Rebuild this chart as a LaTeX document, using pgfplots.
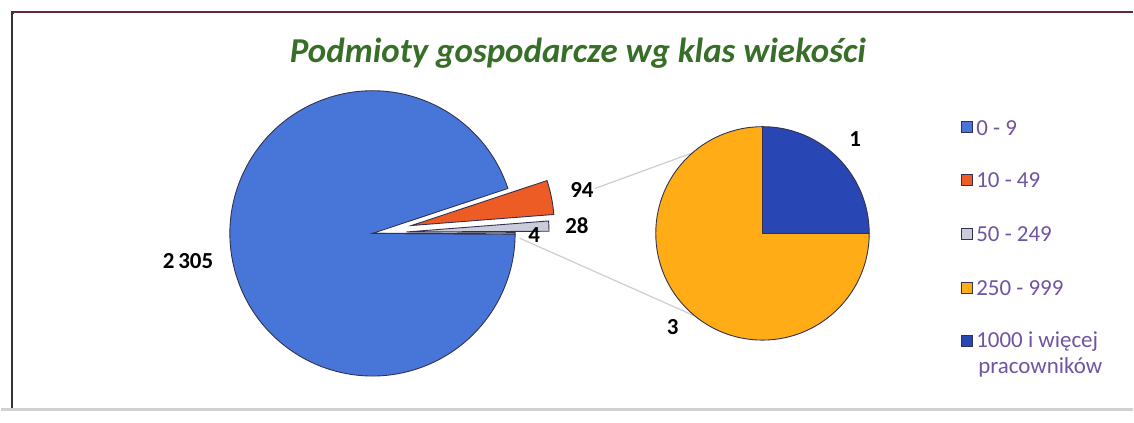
\documentclass[border=0pt]{standalone}
\usepackage{fontspec}
\setmainfont{Carlito}
\usepackage{pgfplots}
\usepackage{pgfplotstable}
\pgfplotsset{compat=1.18}
\usetikzlibrary{calc}

\definecolor{pieblue}{RGB}{72,118,216}
\definecolor{pieorange}{RGB}{238,92,38}
\definecolor{piegray}{RGB}{202,204,218}
\definecolor{pieyellow}{RGB}{255,172,22}
\definecolor{piedark}{RGB}{40,70,180}
\definecolor{pieline}{RGB}{50,50,80}
\definecolor{legtext}{RGB}{112,84,160}
\definecolor{titlegreen}{RGB}{55,110,40}
\definecolor{framered}{RGB}{100,40,60}
\definecolor{connector}{RGB}{205,205,210}

\pgfplotstableread{
label value
0-9 2305
10-49 94
50-249 28
250-999 3
1000+ 1
}\datatable

\pgfplotstablegetelem{0}{value}\of\datatable \let\vA\pgfplotsretval
\pgfplotstablegetelem{1}{value}\of\datatable \let\vB\pgfplotsretval
\pgfplotstablegetelem{2}{value}\of\datatable \let\vC\pgfplotsretval
\pgfplotstablegetelem{3}{value}\of\datatable \let\vD\pgfplotsretval
\pgfplotstablegetelem{4}{value}\of\datatable \let\vE\pgfplotsretval

\pgfmathsetmacro\vOther{\vD+\vE}
\pgfmathsetmacro\vTotal{\vA+\vB+\vC+\vOther}
\pgfmathsetmacro\aO{360*(\vOther/\vTotal)}
\pgfmathsetmacro\oA{-\aO/2}
\pgfmathsetmacro\oB{\aO/2}
\pgfmathsetmacro\gB{\oB+360*(\vC/\vTotal)}
\pgfmathsetmacro\rB{\gB+360*(\vB/\vTotal)}
\pgfmathsetmacro\bB{360+\oA}
% second pie
\pgfmathsetmacro\sDark{360*(\vE/\vOther)}
\pgfmathsetmacro\sEnd{360}

% slice: cx, cy, r, a1, a2, explode, fill  (units: px, 1px = 0.5pt)
\newcommand{\slice}[7]{%
  \fill[#7, draw=pieline, line width=0.45pt]
    ($(axis cs:#1,#2)+({(#4+#5)/2}:{#6*0.5pt})$) -- ++({#4}:{#3*0.5pt})
    arc[start angle={#4}, end angle={#5}, radius={#3*0.5pt}] -- cycle;}
\newcommand{\legbox}[2]{%
  \fill[#2, draw=pieline, line width=0.4pt] (axis cs:962,#1-5) rectangle (axis cs:973,#1+6);}

\begin{document}
\begin{tikzpicture}
\begin{axis}[
  x=0.5pt, y=0.5pt,
  xmin=0, xmax=1134, ymin=0, ymax=424,
  hide axis, clip=false,
]
% background & frame
\fill[white] (axis cs:0,0) rectangle (axis cs:1134,424);
\draw[framered, line width=1.2pt] (axis cs:11,410) -- (axis cs:11,412) -- (axis cs:1134,412);
\draw[black!80, line width=1pt] (axis cs:11,412) -- (axis cs:11,14);
\draw[black!18, line width=1.5pt] (axis cs:0,13) -- (axis cs:1134,13);

% title
\node[font=\fontsize{17.5}{20}\selectfont\bfseries\itshape, text=titlegreen]
  at (axis cs:578,371) {Podmioty gospodarcze wg klas wiekości};

% connector lines
\draw[connector, line width=0.6pt] (axis cs:595,235) -- (axis cs:710,277);
\draw[connector, line width=0.6pt] (axis cs:520,185) -- (axis cs:700,105);

% main pie
\slice{372}{190}{143}{\rB}{\bB}{0}{pieblue}
\slice{372}{190}{143}{\gB}{\rB}{40}{pieorange}
\slice{372}{190}{143}{\oB}{\gB}{34}{piegray}
\slice{372}{190}{143}{\oA}{\oB}{0}{white}

% second pie
\slice{763}{190}{107}{\sDark}{\sEnd}{0}{pieyellow}
\slice{763}{190}{107}{0}{\sDark}{0}{piedark}

% data labels
\node[font=\fontsize{11.5}{13}\selectfont\bfseries] at (axis cs:187,162) {2\,305};
\node[font=\fontsize{11.5}{13}\selectfont\bfseries] at (axis cs:582,234) {94};
\node[font=\fontsize{11.5}{13}\selectfont\bfseries] at (axis cs:577,198) {28};
\node[font=\fontsize{11.5}{13}\selectfont\bfseries] at (axis cs:534,188) {4};
\node[font=\fontsize{11.5}{13}\selectfont\bfseries] at (axis cs:856,285) {1};
\node[font=\fontsize{11.5}{13}\selectfont\bfseries] at (axis cs:673,96) {3};

% legend
\legbox{296}{pieblue}
\legbox{243}{pieorange}
\legbox{189}{piegray}
\legbox{135}{pieyellow}
\legbox{82}{piedark}
\node[font=\fontsize{11.5}{14}\selectfont, text=legtext, anchor=west, inner sep=0pt] at (axis cs:977,296) {0 - 9};
\node[font=\fontsize{11.5}{14}\selectfont, text=legtext, anchor=west, inner sep=0pt] at (axis cs:977,243) {10 - 49};
\node[font=\fontsize{11.5}{14}\selectfont, text=legtext, anchor=west, inner sep=0pt] at (axis cs:977,189) {50 - 249};
\node[font=\fontsize{11.5}{14}\selectfont, text=legtext, anchor=west, inner sep=0pt] at (axis cs:977,135) {250 - 999};
\node[font=\fontsize{11.5}{14}\selectfont, text=legtext, anchor=west, inner sep=0pt] at (axis cs:977,82) {1000 i więcej};
\node[font=\fontsize{11.5}{14}\selectfont, text=legtext, anchor=west, inner sep=0pt] at (axis cs:979,56) {pracowników};
\end{axis}
\end{tikzpicture}
\end{document}
